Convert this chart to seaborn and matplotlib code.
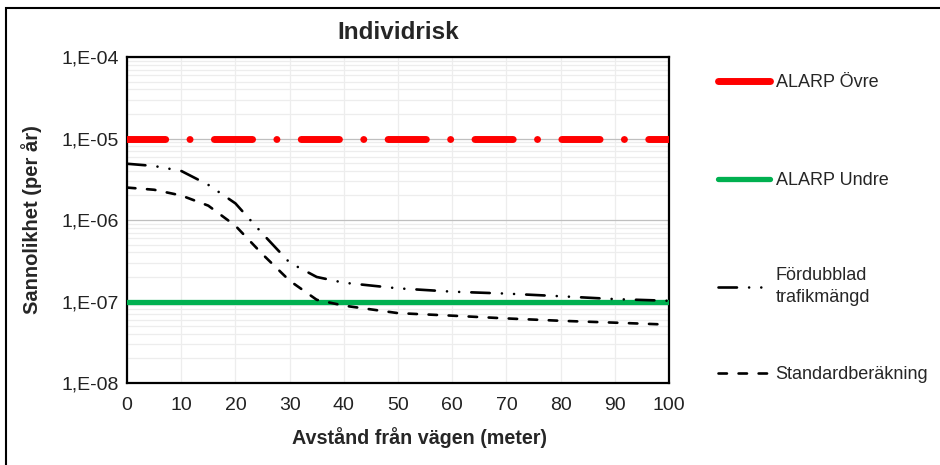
import matplotlib
matplotlib.use("Agg")
import matplotlib.pyplot as plt
import matplotlib.ticker as mticker
from matplotlib.patches import Rectangle
import numpy as np
import seaborn as sns

# values
distance = [0, 5, 10, 15, 20, 25, 30, 35, 40, 50, 60, 70, 80, 90, 100]
fordubblad = [4.9e-6, 4.6e-6, 4.0e-6, 2.7e-6, 1.6e-6, 6.8e-7, 3.0e-7, 2.0e-7, 1.7e-7,
              1.45e-7, 1.32e-7, 1.25e-7, 1.16e-7, 1.07e-7, 1.02e-7]
standard = [2.5e-6, 2.35e-6, 2.0e-6, 1.5e-6, 8.5e-7, 3.8e-7, 1.8e-7, 1.05e-7, 8.9e-8,
            7.2e-8, 6.7e-8, 6.2e-8, 5.8e-8, 5.5e-8, 5.2e-8]
alarp_x = [0, 100]
alarp_ovre = [1e-5, 1e-5]
alarp_undre = [1e-7, 1e-7]

sns.set_style("white")
plt.rcParams["font.family"] = ["Liberation Sans", "DejaVu Sans"]

fig = plt.figure(figsize=(9.4, 4.65), dpi=100)
ax = fig.add_axes([127 / 940, 1 - 383 / 465, (669 - 127) / 940, (383 - 57) / 465])

sns.lineplot(x=alarp_x, y=alarp_ovre, ax=ax, color="#ff0000", lw=5,
             linestyle=(0, (5.5, 3.5, 0.01, 3.5)), solid_capstyle="round",
             dash_capstyle="round", label="ALARP Övre", zorder=4)
sns.lineplot(x=alarp_x, y=alarp_undre, ax=ax, color="#00b050", lw=3.8,
             label="ALARP Undre", zorder=4, solid_capstyle="round")
sns.lineplot(x=distance, y=fordubblad, ax=ax, color="black", lw=1.9,
             linestyle=(0, (7, 4.6, 0.01, 4.6, 0.01, 4.6)), dash_capstyle="round",
             label="Fördubblad\ntrafikmängd", zorder=5)
sns.lineplot(x=distance, y=standard, ax=ax, color="black", lw=1.9,
             linestyle=(0, (3.2, 4.4)), dash_capstyle="round",
             label="Standardberäkning", zorder=5)

ax.set_yscale("log")
ax.set_ylim(1e-8, 1e-4)
ax.set_xlim(0, 100)
ax.set_xticks(range(0, 101, 10))
ax.yaxis.set_major_formatter(mticker.FuncFormatter(lambda v, p: "1,E-%02d" % round(-np.log10(v))))
ax.yaxis.set_minor_locator(mticker.LogLocator(base=10, subs=np.arange(2, 10)))
ax.yaxis.set_minor_formatter(mticker.NullFormatter())

ax.grid(True, which="major", axis="y", color="#bfbfbf", lw=0.9)
ax.grid(True, which="minor", axis="y", color="#ededed", lw=0.9)
ax.grid(True, which="major", axis="x", color="#ededed", lw=0.9)
ax.set_axisbelow(True)
for s in ax.spines.values():
    s.set_color("black")
    s.set_linewidth(1.6)
ax.tick_params(axis="both", which="both", length=0, labelsize=14, colors="#222222")
ax.tick_params(axis="x", pad=10)
ax.tick_params(axis="y", pad=6)

ax.set_title("Individrisk", fontsize=17.5, fontweight="bold", pad=13)
ax.set_xlabel("Avstånd från vägen (meter)", fontsize=14.2, fontweight="bold")
ax.xaxis.set_label_coords(0.54, -0.135)
ax.set_ylabel("Sannolikhet (per år)", fontsize=14.5, fontweight="bold", labelpad=14)

# legend in two parts, like the uneven spacing of the original
handles, labels = ax.get_legend_handles_labels()
leg_kw = dict(loc="upper left", frameon=False, fontsize=13, handlelength=2.9, handletextpad=0.3)
leg1 = ax.legend(handles[:2], labels[:2], bbox_to_anchor=(1.06, 0.997), labelspacing=4.5, **leg_kw)
leg1.get_lines()[0].set_linestyle("-")
ax.add_artist(leg1)
leg2 = ax.legend(handles[2:], labels[2:], bbox_to_anchor=(1.06, 0.407), labelspacing=3.3, **leg_kw)
for t in leg2.get_texts():
    t.set_linespacing(1.45)

# border of the original screenshot
fig.add_artist(Rectangle((6 / 940, -0.2), 2, 1 - 8 / 465 + 0.2, transform=fig.transFigure,
                         fill=False, edgecolor="black", lw=1.5))

fig.savefig("out.png", dpi=100)
